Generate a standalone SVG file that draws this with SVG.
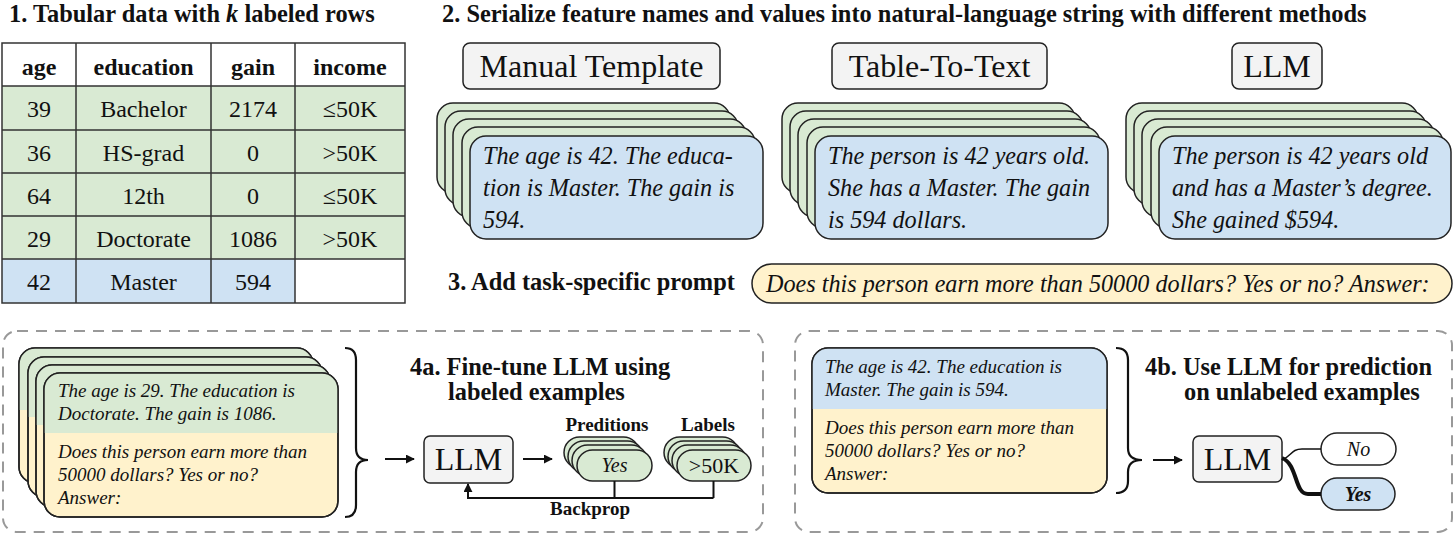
<svg xmlns="http://www.w3.org/2000/svg" width="1456" height="537" viewBox="0 0 1456 537">
<defs>
<style>
text{font-family:'Liberation Serif','DejaVu Serif','Noto Serif',serif;fill:#111}
.b{font-weight:bold}
.i{font-style:italic}
.h{font-size:24.4px;font-weight:bold}
.cell{font-size:24px;text-anchor:middle}
.ct{font-size:24.2px;font-style:italic}
.st{font-size:19px;font-style:italic}
.big{font-size:32px;text-anchor:middle}
.g{fill:#d9ead3;stroke:#222;stroke-width:1.5}
.bl{fill:#cfe2f3;stroke:#222;stroke-width:1.5}
.y{fill:#fff2cc;stroke:#222;stroke-width:1.5}
.gr{fill:#f3f3f3;stroke:#222;stroke-width:1.5}
.w{fill:#fff;stroke:#222;stroke-width:1.5}
.ol{fill:none;stroke:#222;stroke-width:1.5}
.dash{fill:none;stroke:#999;stroke-width:2;stroke-dasharray:11 8}
.ln{fill:none;stroke:#111;stroke-width:2}
.brace{fill:none;stroke:#111;stroke-width:2.2}
</style>
<marker id="ah" viewBox="0 0 10 10" refX="9" refY="5" markerWidth="9" markerHeight="9" markerUnits="userSpaceOnUse" orient="auto">
<path d="M0,0 L10,5 L0,10 z" fill="#111"/>
</marker>
</defs>
<rect width="1456" height="537" fill="#fff"/>

<g id="title1"><text class="h" x="9" y="22" font-size="25">1. Tabular data with <tspan font-style="italic">k</tspan> labeled rows</text></g>
<g id="table">
<rect x="2" y="43" width="403" height="43" fill="#fff"/>
<rect x="2" y="86" width="403" height="173" fill="#d9ead3"/>
<rect x="2" y="259" width="293" height="44" fill="#cfe2f3"/>
<rect x="295" y="259" width="110" height="44" fill="#fff"/>
<g stroke="#333" stroke-width="1.5" fill="none">
<rect x="2" y="43" width="403" height="260"/>
<path d="M76,43V303M211,43V303M295,43V303M2,86H405M2,130H405M2,173H405M2,216H405M2,259H405"/>
</g>
<g>
<text class="cell b" x="39" y="75">age</text>
<text class="cell b" x="143.5" y="75">education</text>
<text class="cell b" x="253" y="75">gain</text>
<text class="cell b" x="350" y="75">income</text>
<text class="cell" x="39" y="117">39</text>
<text class="cell" x="143.5" y="117">Bachelor</text>
<text class="cell" x="253" y="117">2174</text>
<text class="cell" x="350" y="117">≤50K</text>
<text class="cell" x="39" y="161">36</text>
<text class="cell" x="143.5" y="161">HS-grad</text>
<text class="cell" x="253" y="161">0</text>
<text class="cell" x="350" y="161">&gt;50K</text>
<text class="cell" x="39" y="204">64</text>
<text class="cell" x="143.5" y="204">12th</text>
<text class="cell" x="253" y="204">0</text>
<text class="cell" x="350" y="204">≤50K</text>
<text class="cell" x="39" y="247">29</text>
<text class="cell" x="143.5" y="247">Doctorate</text>
<text class="cell" x="253" y="247">1086</text>
<text class="cell" x="350" y="247">&gt;50K</text>
<text class="cell" x="39" y="290">42</text>
<text class="cell" x="143.5" y="290">Master</text>
<text class="cell" x="253" y="290">594</text>
</g>
</g>

<g id="title2"><text class="h" x="442" y="22">2. Serialize feature names and values into natural-language string with different methods</text></g>

<g id="method-manual">
<rect class="gr" x="463" y="43" width="257" height="46" rx="7"/>
<text class="big" x="591.5" y="77">Manual Template</text>
</g>
<g id="method-t2t">
<rect class="gr" x="832" y="43" width="215" height="46" rx="7"/>
<text class="big" x="939.5" y="77">Table-To-Text</text>
</g>
<g id="method-llm">
<rect class="gr" x="1232" y="43" width="90" height="46" rx="7"/>
<text class="big" x="1277" y="77">LLM</text>
</g>

<g id="stack-manual">
<rect class="g" x="437" y="103" width="293" height="90" rx="16"/>
<rect class="g" x="445" y="111" width="293" height="94" rx="16"/>
<rect class="g" x="453" y="119" width="293" height="98" rx="16"/>
<rect class="g" x="462" y="127" width="293" height="101" rx="16"/>
<rect class="bl" x="470" y="136" width="293" height="103" rx="16"/>
<text class="ct" x="483" y="164">The age is 42. The educa-</text>
<text class="ct" x="483" y="196">tion is Master. The gain is</text>
<text class="ct" x="483" y="228">594.</text>
</g>
<g id="stack-t2t">
<rect class="g" x="782" y="103" width="293" height="90" rx="16"/>
<rect class="g" x="790" y="111" width="293" height="94" rx="16"/>
<rect class="g" x="798" y="119" width="293" height="98" rx="16"/>
<rect class="g" x="807" y="127" width="293" height="101" rx="16"/>
<rect class="bl" x="815" y="136" width="293" height="103" rx="16"/>
<text class="ct" x="828" y="164">The person is 42 years old.</text>
<text class="ct" x="828" y="196">She has a Master. The gain</text>
<text class="ct" x="828" y="228">is 594 dollars.</text>
</g>
<g id="stack-llm">
<rect class="g" x="1126" y="103" width="292" height="90" rx="16"/>
<rect class="g" x="1134" y="111" width="292" height="94" rx="16"/>
<rect class="g" x="1142" y="119" width="292" height="98" rx="16"/>
<rect class="g" x="1151" y="127" width="292" height="101" rx="16"/>
<rect class="bl" x="1159" y="136" width="292" height="103" rx="16"/>
<text class="ct" x="1172" y="164">The person is 42 years old</text>
<text class="ct" x="1172" y="196">and has a Master’s degree.</text>
<text class="ct" x="1172" y="228">She gained $594.</text>
</g>

<g id="title3"><text class="h" x="448" y="290">3. Add task-specific prompt</text></g>
<g id="prompt">
<rect class="y" x="752" y="264" width="700" height="39" rx="19.5"/>
<text class="ct" x="766" y="292" font-size="24.5">Does this person earn more than 50000 dollars? Yes or no? Answer:</text>
</g>

<g id="box4a"><rect class="dash" x="3" y="331" width="760" height="201" rx="14"/></g>
<g id="stack-4a">
<rect class="y" x="19" y="348" width="294" height="135" rx="16"/>
<path d="M19,410 V364 A16,16 0 0 1 35,348 H297 A16,16 0 0 1 313,364 V410 Z" fill="#d9ead3"/>
<rect class="ol" x="19" y="348" width="294" height="135" rx="16"/>
<rect class="y" x="28" y="357" width="294" height="140" rx="16"/>
<path d="M28,417 V373 A16,16 0 0 1 44,357 H306 A16,16 0 0 1 322,373 V417 Z" fill="#d9ead3"/>
<rect class="ol" x="28" y="357" width="294" height="140" rx="16"/>
<rect class="y" x="36" y="365" width="294" height="142" rx="16"/>
<path d="M36,425 V381 A16,16 0 0 1 52,365 H314 A16,16 0 0 1 330,381 V425 Z" fill="#d9ead3"/>
<rect class="ol" x="36" y="365" width="294" height="142" rx="16"/>
<rect class="y" x="44" y="373" width="294" height="144" rx="16"/>
<path d="M44,433 V389 A16,16 0 0 1 60,373 H322 A16,16 0 0 1 338,389 V433 Z" fill="#d9ead3"/>
<rect class="ol" x="44" y="373" width="294" height="144" rx="16"/>
<text class="st" x="58" y="397">The age is 29. The education is</text>
<text class="st" x="58" y="420">Doctorate. The gain is 1086.</text>
<text class="st" x="58" y="458">Does this person earn more than</text>
<text class="st" x="58" y="481">50000 dollars? Yes or no?</text>
<text class="st" x="58" y="504">Answer:</text>
</g>
<g id="title4a">
<text class="h" x="410" y="375">4a. Fine-tune LLM using</text>
<text class="h" x="448" y="400">labeled examples</text>
</g>
<g id="llm-4a">
<rect class="gr" x="424" y="436" width="89" height="47" rx="6"/>
<text class="big" x="468.5" y="470">LLM</text>
</g>
<g id="preds">
<text class="b" x="607" y="431" font-size="19" text-anchor="middle">Preditions</text>
<rect class="g" x="564" y="437" width="75" height="31" rx="15.5"/>
<rect class="g" x="568" y="441" width="75" height="31" rx="15.5"/>
<rect class="g" x="572" y="445" width="75" height="31" rx="15.5"/>
<rect class="g" x="577" y="450" width="75" height="31" rx="15.5"/>
<text class="i" x="614.5" y="472" font-size="20" text-anchor="middle">Yes</text>
</g>
<g id="labels">
<text class="b" x="708" y="431" font-size="19" text-anchor="middle">Labels</text>
<rect class="g" x="664" y="437" width="74" height="31" rx="15.5"/>
<rect class="g" x="668" y="441" width="74" height="31" rx="15.5"/>
<rect class="g" x="672" y="445" width="74" height="31" rx="15.5"/>
<rect class="g" x="677" y="450" width="74" height="31" rx="15.5"/>
<text x="714" y="473" font-size="22" text-anchor="middle">&gt;50K</text>
</g>
<g id="backprop-label"><text class="b" x="590" y="515" font-size="19" text-anchor="middle">Backprop</text></g>

<g id="box4b"><rect class="dash" x="795" y="331" width="657" height="201" rx="14"/></g>
<g id="card-4b">
<rect class="y" x="812" y="348" width="295" height="145" rx="16"/>
<path d="M812,409 V364 A16,16 0 0 1 828,348 H1091 A16,16 0 0 1 1107,364 V409 Z" fill="#cfe2f3"/>
<rect class="ol" x="812" y="348" width="295" height="145" rx="16"/>
<text class="st" x="825" y="373">The age is 42. The education is</text>
<text class="st" x="825" y="396">Master. The gain is 594.</text>
<text class="st" x="825" y="434">Does this person earn more than</text>
<text class="st" x="825" y="457">50000 dollars? Yes or no?</text>
<text class="st" x="825" y="480">Answer:</text>
</g>
<g id="title4b">
<text class="h" x="1145" y="375">4b. Use LLM for prediction</text>
<text class="h" x="1184" y="400">on unlabeled examples</text>
</g>
<g id="llm-4b">
<rect class="gr" x="1193" y="436" width="89" height="46" rx="6"/>
<text class="big" x="1237.5" y="470">LLM</text>
</g>
<g id="out-no">
<rect class="w" x="1321" y="433" width="75" height="32" rx="16"/>
<text class="i" x="1358.5" y="456" font-size="20" text-anchor="middle">No</text>
</g>
<g id="out-yes">
<rect class="bl" x="1321" y="478" width="74" height="32" rx="16"/>
<text class="i b" x="1358" y="501" font-size="20" text-anchor="middle">Yes</text>
</g>

<g id="connectors">
<path class="brace" d="M345,348 Q356,348 356,360 V448 Q356,460 368,460 Q356,460 356,472 V505 Q356,517 345,517"/>
<path class="ln" d="M385,459 H414" marker-end="url(#ah)"/>
<path class="ln" d="M523,459 H552" marker-end="url(#ah)"/>
<path class="ln" d="M614.5,481 V498 M713.5,481 V498 M713.5,498 H468 V484" marker-end="url(#ah)"/>
<path class="brace" d="M1116,348 Q1128,348 1128,360 V448 Q1128,460 1142,460 Q1128,460 1128,472 V481 Q1128,493 1116,493"/>
<path class="ln" d="M1153,460 H1182" marker-end="url(#ah)"/>
<path fill="none" stroke="#111" stroke-width="1.5" d="M1282,460 C1292,456 1291,449 1302,449 H1321"/>
<path fill="none" stroke="#111" stroke-width="4" d="M1282,458 C1298,464 1294,494 1308,494 H1321"/>
</g>
</svg>
